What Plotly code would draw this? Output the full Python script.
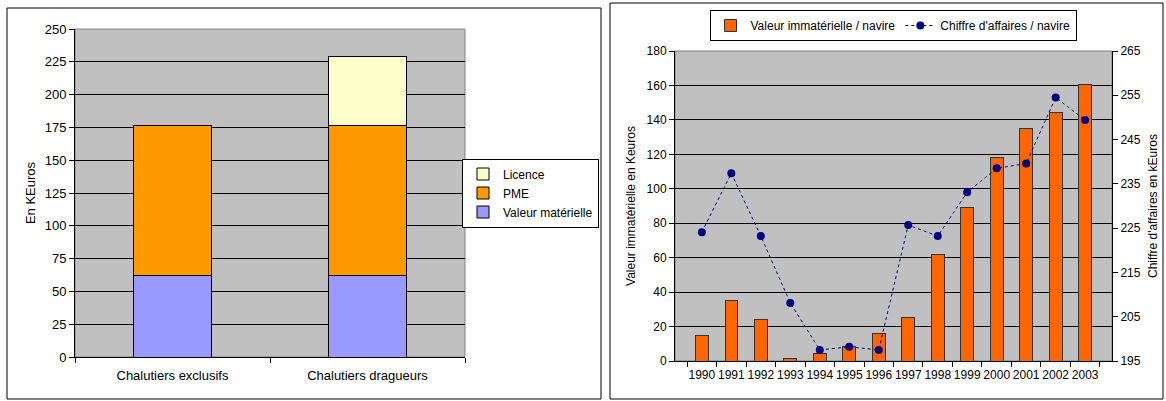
import plotly.graph_objects as go

# ---- Left chart data ----
categories = ["Chalutiers exclusifs", "Chalutiers dragueurs"]
valeur_materielle = [62, 62]
pme = [114.5, 114.5]
licence = [0, 52.5]

# ---- Right chart data ----
years = ["1990", "1991", "1992", "1993", "1994", "1995", "1996",
         "1997", "1998", "1999", "2000", "2001", "2002", "2003"]
valeur_immaterielle = [15, 35, 24, 1.5, 4.3, 8.2, 16, 25.5, 62, 89.3, 118.4, 135, 144.5, 160.6]
chiffre_affaires = [224.1, 237.4, 223.2, 208.1, 197.5, 198.2, 197.5,
                    225.7, 223.2, 233.1, 238.5, 239.6, 254.5, 249.4]

FONT = "Liberation Sans, Arial, sans-serif"
W, H = 1166, 401

def px(x):
    return x / W

def py(y):
    return 1 - y / H

fig = go.Figure()

line_style = dict(color="black", width=1)
fig.add_trace(go.Bar(x=categories, y=valeur_materielle, name="Valeur matérielle",
                     marker=dict(color="#9999FF", line=line_style), width=0.4,
                     xaxis="x", yaxis="y", legend="legend"))
fig.add_trace(go.Bar(x=categories, y=pme, name="PME",
                     marker=dict(color="#FF9900", line=line_style), width=0.4,
                     xaxis="x", yaxis="y", legend="legend"))
fig.add_trace(go.Bar(x=categories, y=licence, name="Licence",
                     marker=dict(color="#FFFFCC", line=line_style), width=0.4,
                     xaxis="x", yaxis="y", legend="legend"))

fig.add_trace(go.Bar(x=years, y=valeur_immaterielle, name="Valeur immatérielle / navire",
                     marker=dict(color="#FF6600", line=dict(color="#333333", width=1)),
                     width=0.43, xaxis="x2", yaxis="y2", legend="legend2"))
fig.add_trace(go.Scatter(x=years, y=chiffre_affaires, name="Chiffre d'affaires / navire",
                         mode="lines+markers",
                         line=dict(color="#000080", width=1, dash="dot"),
                         marker=dict(color="#000080", size=8),
                         xaxis="x2", yaxis="y3", legend="legend2"))

tf_left = dict(family=FONT, size=13, color="black")
tf_right = dict(family=FONT, size=12, color="black")

fig.update_layout(
    template="none",
    width=W, height=H,
    margin=dict(l=0, r=0, t=0, b=0, autoexpand=False),
    paper_bgcolor="white",
    plot_bgcolor="#C0C0C0",
    barmode="stack",
    font=dict(family=FONT, size=12, color="black"),
    xaxis=dict(domain=[px(75), px(465)], anchor="y", type="category",
               tickfont=tf_left, automargin=False,
               showline=True, linecolor="black", linewidth=1,
               ticks="outside", tickson="boundaries", ticklen=5, tickcolor="black",
               ticklabelstandoff=6, showgrid=False),
    yaxis=dict(domain=[py(357), py(29)], anchor="x", range=[0, 250], dtick=25,
               automargin=False,
               tickfont=tf_left, showline=True, linecolor="black", linewidth=1,
               ticks="outside", ticklen=5, tickcolor="black",
               showgrid=True, gridcolor="black", gridwidth=1, zeroline=False,
               title=dict(text="En KEuros", font=tf_left, standoff=6)),
    xaxis2=dict(domain=[px(675), px(1112)], anchor="y2", type="category",
                tickfont=tf_right, automargin=False,
                showline=True, linecolor="black", linewidth=1,
                ticks="outside", tickson="boundaries", ticklen=5, tickcolor="black",
                ticklabelstandoff=3, showgrid=False, tickangle=0),
    yaxis2=dict(domain=[py(361), py(51)], anchor="x2", range=[0, 180], dtick=20,
                automargin=False,
                tickfont=tf_right, showline=True, linecolor="black", linewidth=1,
                ticks="outside", ticklen=5, tickcolor="black",
                showgrid=True, gridcolor="black", gridwidth=1, zeroline=False,
                title=dict(text="Valeur immatérielle en Keuros", font=tf_right, standoff=8)),
    yaxis3=dict(overlaying="y2", side="right", anchor="x2", range=[195, 265],
                tick0=195, dtick=10, automargin=False,
                tickfont=tf_right, showline=True, linecolor="black", linewidth=1,
                ticks="outside", ticklen=5, tickcolor="black",
                showgrid=False, zeroline=False,
                title=dict(text="Chiffre d'affaires en kEuros", font=tf_right, standoff=8)),
    legend=dict(x=px(599), y=py(193), xanchor="right", yanchor="middle",
                bgcolor="white", bordercolor="black", borderwidth=1,
                traceorder="reversed", font=tf_right,
                itemwidth=30, tracegroupgap=0),
    legend2=dict(x=px(893), y=py(10), xanchor="center", yanchor="top",
                 orientation="h", bgcolor="white", bordercolor="black", borderwidth=1,
                 traceorder="normal",
                 font=tf_right, itemwidth=30),
    shapes=[
        dict(type="rect", xref="paper", yref="paper", x0=px(7), x1=px(601), y0=py(399), y1=py(8),
             line=dict(color="black", width=1), layer="below"),
        dict(type="rect", xref="paper", yref="paper", x0=px(610), x1=px(1163), y0=py(399), y1=py(3),
             line=dict(color="black", width=1), layer="below"),
        dict(type="rect", xref="x domain", yref="y domain", x0=0, x1=1, y0=0, y1=1,
             line=dict(color="#808080", width=1), layer="below"),
        dict(type="rect", xref="x2 domain", yref="y2 domain", x0=0, x1=1, y0=0, y1=1,
             line=dict(color="#808080", width=1), layer="below"),
    ],
)

fig.write_html("out.html",
               config={"displayModeBar": False},
               post_script="document.body.style.margin='0';document.body.style.padding='0';"
                           "document.documentElement.style.overflow='hidden';")
